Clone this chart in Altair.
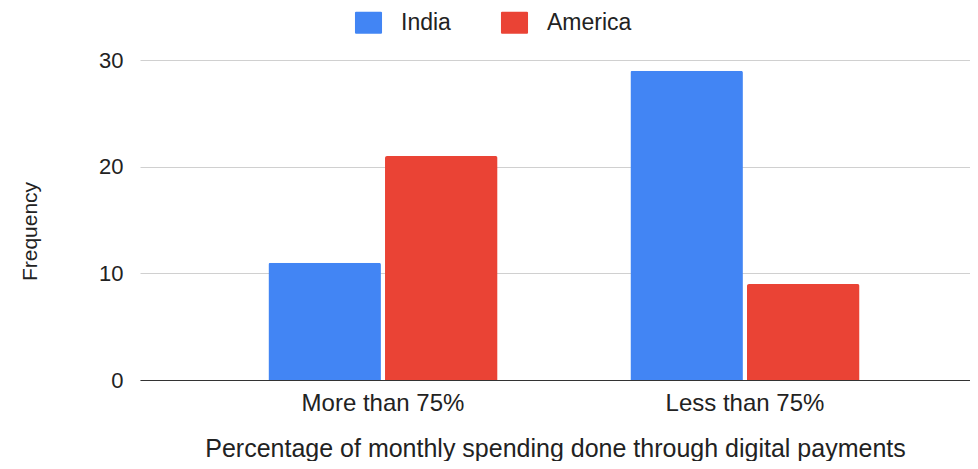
import altair as alt
import pandas as pd

categories = ["More than 75%", "Less than 75%"]
series = ["India", "America"]
india = [11, 29]
america = [21, 9]
colors = ["#4285F4", "#EA4335"]

rows = []
for c, v in zip(categories, india):
    rows.append({"cat": c, "series": "India", "value": v})
for c, v in zip(categories, america):
    rows.append({"cat": c, "series": "America", "value": v})
df = pd.DataFrame(rows)

FONT = "Liberation Sans"
TXT = "#222222"
ROUNDED_RECT = ("M-1.13,-1 H1.13 Q1.23,-1 1.23,-0.9 V0.9 Q1.23,1 1.13,1 H-1.13 "
                "Q-1.23,1 -1.23,0.9 V-0.9 Q-1.23,-1 -1.13,-1 Z")

chart = alt.Chart(df).mark_bar(cornerRadiusTopLeft=2, cornerRadiusTopRight=2).encode(
    x=alt.X("cat:N", sort=categories,
            scale=alt.Scale(paddingInner=0.367, paddingOuter=0.33, align=0.5375),
            axis=alt.Axis(title="Percentage of monthly spending done through digital payments",
                          labelAngle=0, ticks=False, domainColor="#333333", domainWidth=1,
                          labelPadding=11, titlePadding=21, labelFontSize=24, titleFontSize=25,
                          titleFontWeight="normal", labelColor=TXT, titleColor=TXT,
                          labelFont=FONT, titleFont=FONT)),
    xOffset=alt.XOffset("series:N", sort=series,
                        scale=alt.Scale(paddingInner=0.035, paddingOuter=0)),
    y=alt.Y("value:Q", scale=alt.Scale(domain=[0, 30]),
            axis=alt.Axis(title="Frequency", values=[0, 10, 20, 30], domain=False, ticks=False,
                          gridColor="#d0d0d0", labelPadding=17, labelFontSize=22,
                          titleFontSize=21, titleFontWeight="normal",
                          titleBaseline="alphabetic", titleX=-104, titleY=171,
                          labelColor=TXT, titleColor=TXT,
                          labelFont=FONT, titleFont=FONT)),
    color=alt.Color("series:N", sort=series,
                    scale=alt.Scale(domain=series, range=colors),
                    legend=alt.Legend(title=None, orient="none", direction="horizontal",
                                      legendX=217, legendY=-49, symbolType=ROUNDED_RECT,
                                      symbolSize=484, labelFontSize=23, columnPadding=49,
                                      labelOffset=21, symbolStrokeWidth=0,
                                      labelColor=TXT, labelFont=FONT)),
).properties(
    width=830, height=320,
    autosize=alt.AutoSizeParams(type="none"),
    padding={"left": 132, "top": 52, "right": 0, "bottom": 81},
).configure(font=FONT).configure_view(strokeWidth=0)

chart.save("out.html", embed_options={"renderer": "svg", "actions": False})
